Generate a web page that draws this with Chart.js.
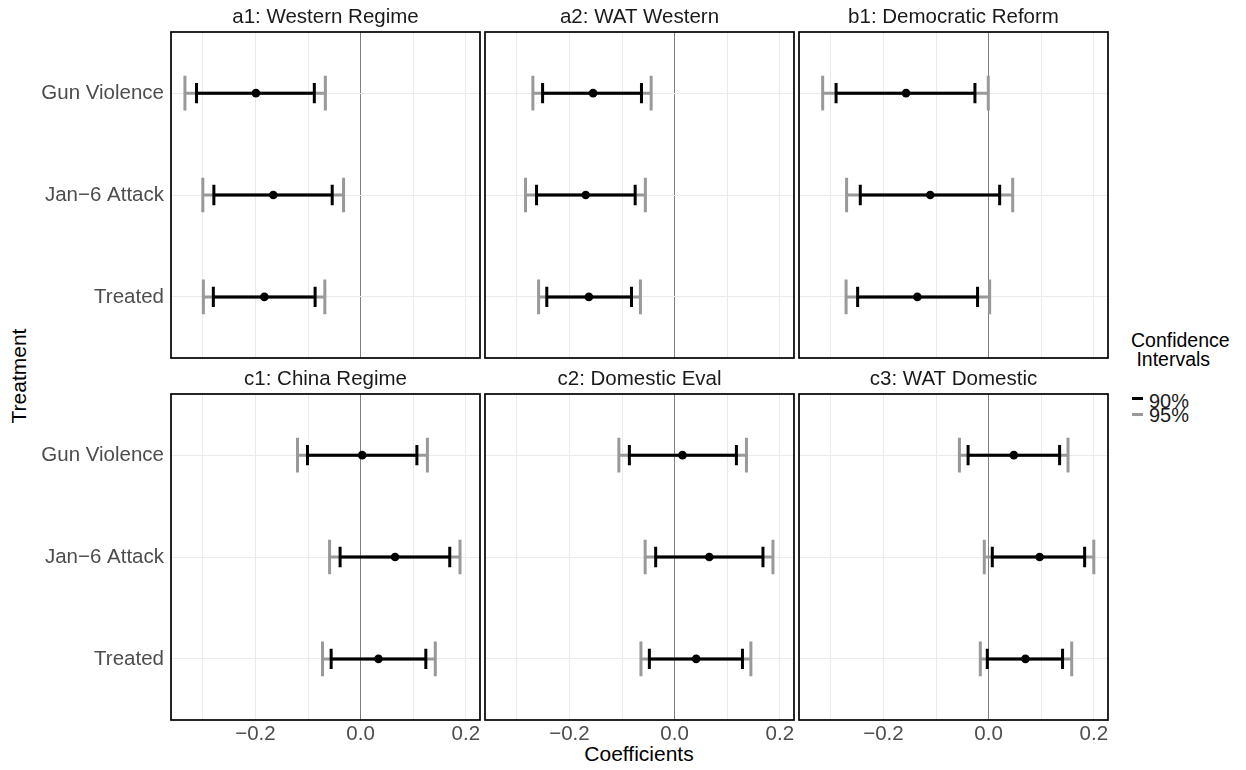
<!DOCTYPE html>
<html>
<head>
<meta charset="utf-8">
<script src="https://cdn.jsdelivr.net/npm/chart.js@4.4.0/dist/chart.umd.min.js"></script>
<style>
  html, body { margin: 0; padding: 0; background: #ffffff; }
  body { width: 1246px; height: 770px; position: relative; overflow: hidden; font-family: "Liberation Sans", Arial, sans-serif; }
  canvas { position: absolute; }
  .txt { position: absolute; white-space: nowrap; line-height: 1; }
</style>
</head>
<body>
<div class="txt" id="ytitle" style="left:18px; top:376px; font-size:21px; color:#000; transform: translate(-50%,-50%) rotate(-90deg);">Treatment</div>
<div class="txt" id="xtitle" style="left:639px; top:753px; font-size:21px; color:#000; transform: translate(-50%,-50%);">Coefficients</div>
<div class="txt" style="left:1131px; top:331px; font-size:19.5px; color:#000; line-height:19px;">Confidence<br>&nbsp;Intervals</div>
<div style="position:absolute; left:1132px; top:397px; width:11px; height:3px; background:#000;"></div>
<div style="position:absolute; left:1132px; top:412.5px; width:11px; height:3px; background:#999999;"></div>
<div class="txt" style="left:1149px; top:390.5px; font-size:20px; color:#1a1a1a;">90%</div>
<div class="txt" style="left:1149px; top:405px; font-size:20px; color:#1a1a1a;">95%</div>

<script>
// ---------- data ----------
const categories = ['Gun Violence', 'Jan\u22126 Attack', 'Treated'];
const panelTitles = ['a1: Western Regime', 'a2: WAT Western', 'b1: Democratic Reform',
                     'c1: China Regime', 'c2: Domestic Eval', 'c3: WAT Domestic'];
const xTickValues = [-0.3, -0.2, -0.1, 0, 0.1, 0.2];
const xTickLabelValues = [-0.2, 0, 0.2];

// per panel, per category (Gun Violence, Jan-6 Attack, Treated)
const estimate = [
  [-0.199, -0.166, -0.183],
  [-0.155, -0.169, -0.163],
  [-0.157, -0.111, -0.1355],
  [0.003, 0.0655, 0.034],
  [0.015, 0.066, 0.041],
  [0.048, 0.097, 0.070]
];
const lo90 = [
  [-0.312, -0.279, -0.280],
  [-0.251, -0.2625, -0.243],
  [-0.290, -0.244, -0.249],
  [-0.101, -0.039, -0.056],
  [-0.086, -0.036, -0.048],
  [-0.039, 0.007, -0.0025]
];
const hi90 = [
  [-0.088, -0.054, -0.0865],
  [-0.063, -0.075, -0.082],
  [-0.026, 0.021, -0.021],
  [0.107, 0.1695, 0.124],
  [0.1175, 0.168, 0.129],
  [0.135, 0.1826, 0.1406]
];
const lo95 = [
  [-0.334, -0.300, -0.299],
  [-0.2695, -0.2835, -0.2586],
  [-0.3155, -0.270, -0.271],
  [-0.120, -0.059, -0.0724],
  [-0.106, -0.056, -0.064],
  [-0.0555, -0.0082, -0.0158]
];
const hi95 = [
  [-0.067, -0.0324, -0.068],
  [-0.0446, -0.0556, -0.065],
  [-0.0006, 0.0458, 0.002],
  [0.127, 0.189, 0.142],
  [0.1366, 0.187, 0.145],
  [0.151, 0.200, 0.158]
];

// ---------- layout / style ----------
const COL_L = [171, 485, 799];
const ROW_T = [32, 394];
const PW = 309, PH = 326;
const TITLE_H = 40, XAXIS_H = 34, EDGE = 2;
const X_MIN = -0.3605, X_MAX = 0.227;
const FONT = '"Liberation Sans", Arial, sans-serif';
const GREY = '#999999';
const CAP95 = 0.17, CAP90 = 0.1;

const borderPlugin = {
  id: 'panelBorder',
  afterDraw(chart) {
    const a = chart.chartArea, ctx = chart.ctx;
    ctx.save();
    ctx.strokeStyle = '#000';
    ctx.lineWidth = 1.7;
    ctx.strokeRect(a.left, a.top, a.right - a.left, a.bottom - a.top);
    ctx.restore();
  }
};

function seg(points, color, width, order) {
  return { data: points, showLine: true, borderColor: color, borderWidth: width,
           pointRadius: 0, borderCapStyle: 'butt', fill: false, order: order };
}

function fmt(v) {
  const s = Math.abs(v).toFixed(1);
  return v < 0 ? '\u2212' + s : s;
}

function noPad(s) {
  s.paddingTop = 0; s.paddingBottom = 0; s.paddingLeft = 0; s.paddingRight = 0;
}

function makePanel(p) {
  const row = Math.floor(p / 3), col = p % 3;
  const isLeft = col === 0, isBottom = row === 1;
  const axisW = isLeft ? COL_L[0] : 0;
  const padLeft = isLeft ? 0 : EDGE;
  const padBottom = isBottom ? 0 : EDGE;
  const w = padLeft + axisW + PW + EDGE;
  const h = TITLE_H + PH + (isBottom ? XAXIS_H : 0) + padBottom;
  const cv = document.createElement('canvas');
  cv.width = w; cv.height = h;
  cv.style.left = (COL_L[col] - axisW - padLeft) + 'px';
  cv.style.top = (ROW_T[row] - TITLE_H) + 'px';
  cv.style.width = w + 'px'; cv.style.height = h + 'px';
  document.body.appendChild(cv);

  const datasets = [];
  datasets.push({
    data: categories.map((c, i) => ({x: estimate[p][i], y: i + 1})),
    showLine: false, pointRadius: 4.3, pointBackgroundColor: '#000',
    pointBorderWidth: 0, borderColor: '#000', order: 1
  });
  categories.forEach((c, i) => {
    const y = i + 1;
    datasets.push(seg([{x: lo90[p][i], y}, {x: hi90[p][i], y}], '#000', 3, 2));
    datasets.push(seg([{x: lo90[p][i], y: y - CAP90}, {x: lo90[p][i], y: y + CAP90}], '#000', 3, 2));
    datasets.push(seg([{x: hi90[p][i], y: y - CAP90}, {x: hi90[p][i], y: y + CAP90}], '#000', 3, 2));
  });
  categories.forEach((c, i) => {
    const y = i + 1;
    datasets.push(seg([{x: lo95[p][i], y}, {x: hi95[p][i], y}], GREY, 3, 3));
    datasets.push(seg([{x: lo95[p][i], y: y - CAP95}, {x: lo95[p][i], y: y + CAP95}], GREY, 3, 3));
    datasets.push(seg([{x: hi95[p][i], y: y - CAP95}, {x: hi95[p][i], y: y + CAP95}], GREY, 3, 3));
  });

  new Chart(cv, {
    type: 'scatter',
    data: { datasets },
    plugins: [borderPlugin],
    options: {
      responsive: false, animation: false, devicePixelRatio: 1,
      layout: { padding: { left: padLeft, right: EDGE, top: 0, bottom: padBottom }, autoPadding: false },
      plugins: {
        legend: { display: false }, tooltip: { enabled: false },
        title: { display: true, fullSize: false, text: panelTitles[p], color: '#1a1a1a',
                 font: { family: FONT, size: 20.5, weight: 'normal' },
                 padding: { top: 13, bottom: 2.4 } }
      },
      scales: {
        x: {
          type: 'linear', min: X_MIN, max: X_MAX,
          afterBuildTicks: s => { s.ticks = xTickValues.map(v => ({ value: v })); },
          afterFit: s => { s.height = isBottom ? XAXIS_H : 0; noPad(s); },
          border: { display: false },
          grid: { drawTicks: false, lineWidth: 1,
                  color: ctx => (ctx.tick && ctx.tick.value === 0) ? '#7f7f7f' : '#ebebeb' },
          ticks: { display: isBottom, autoSkip: false, maxRotation: 0, padding: 2,
                   color: '#4d4d4d', font: { family: FONT, size: 20.5 },
                   callback: v => xTickLabelValues.some(t => Math.abs(t - v) < 1e-9) ? fmt(v) : '' }
        },
        y: {
          type: 'linear', min: 0.4, max: 3.6, reverse: true,
          afterBuildTicks: s => { s.ticks = categories.map((c, i) => ({ value: i + 1 })); },
          afterFit: s => { s.width = axisW; noPad(s); },
          border: { display: false },
          grid: { drawTicks: false, color: '#ebebeb', lineWidth: 1 },
          ticks: { display: isLeft, padding: 7, color: '#4d4d4d',
                   font: { family: FONT, size: 20.5 },
                   callback: v => categories[Math.round(v) - 1] }
        }
      }
    }
  });
}

for (let p = 0; p < 6; p++) makePanel(p);
</script>
</body>
</html>
